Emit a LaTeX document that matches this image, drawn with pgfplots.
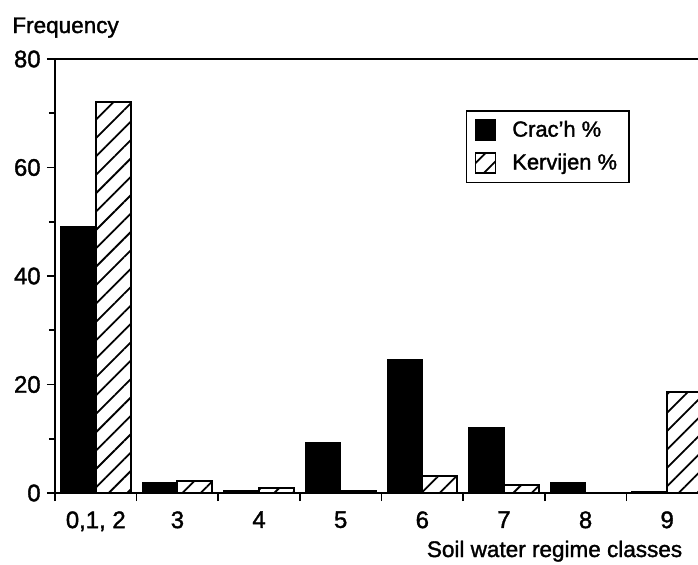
\documentclass[border=0pt]{standalone}
\usepackage{fontspec}
\setmainfont{Liberation Sans}[FakeBold=1.5]
\usepackage{pgfplots}
\pgfplotsset{compat=1.18}
\usetikzlibrary{patterns.meta}
\begin{document}
\begin{tikzpicture}
\begin{axis}[
  at={(0,0)}, anchor=south west,
  scale only axis,
  width=326.5bp, height=217bp,
  xmin=-0.5, xmax=7.5,
  ymin=0, ymax=80,
  ybar=0pt, bar width=17.5bp,
  axis line style={line width=1bp},
  tick align=outside,
  xtick pos=bottom, ytick pos=left,
  ytick={0,20,40,60,80},
  minor ytick={10,30,50,70},
  major tick length=4bp, minor tick length=3bp,
  every tick/.style={black, line width=0.8bp},
  xtick={-0.5,0.5,...,7.5},
  x tick label as interval,
  xticklabels={{0,1, 2},3,4,5,6,7,8,9},
  /pgf/number format/assume math mode=true,
  tick label style={font=\fontsize{12}{14}\selectfont},
  yticklabel style={inner sep=0pt, anchor=east, xshift=-3bp},
  xticklabel style={inner sep=0pt, anchor=north, yshift=-5bp},
  xlabel={Soil water regime classes},
  xlabel style={font=\fontsize{11.3}{13.5}\selectfont, at={(rel axis cs:0.765,0)}, anchor=base, yshift=-32bp, inner sep=0pt},
  ylabel={Frequency},
  ylabel style={font=\fontsize{11.3}{13.5}\selectfont, rotate=-90, at={(rel axis cs:0,1)}, anchor=base west, xshift=-21.5bp, yshift=13bp, inner sep=0pt},
  legend style={at={(0.629,0.8825)}, anchor=north west, draw=black, line width=0.8bp,
    font=\fontsize{11}{13}\selectfont, inner xsep=4bp, inner ysep=3bp, row sep=3bp},
  legend cell align=left,
  legend image code/.code={\draw[#1, line width=0.8bp] (0bp,-5bp) rectangle (10bp,5bp); \path (16bp,0bp);},
  clip=false,
]
\addplot[fill=black, draw=black, line width=0.8bp] coordinates {
  (0,49) (1,1.8) (2,0.4) (3,9.2) (4,24.5) (5,12) (6,1.9) (7,0.3)};
\addplot[draw=black, line width=1bp, pattern={Lines[angle=45, distance=6.5bp, line width=0.9bp]}] coordinates {
  (0,72) (1,2.2) (2,0.9) (3,0.3) (4,3.2) (5,1.5) (6,0) (7,18.7)};
\legend{Crac{\char"0027}h \%, Kervijen \%}
\end{axis}
\pgfresetboundingbox
\path[use as bounding box] (-27.5bp,-36bp) rectangle (321.5bp,246.5bp);
\end{tikzpicture}
\end{document}
